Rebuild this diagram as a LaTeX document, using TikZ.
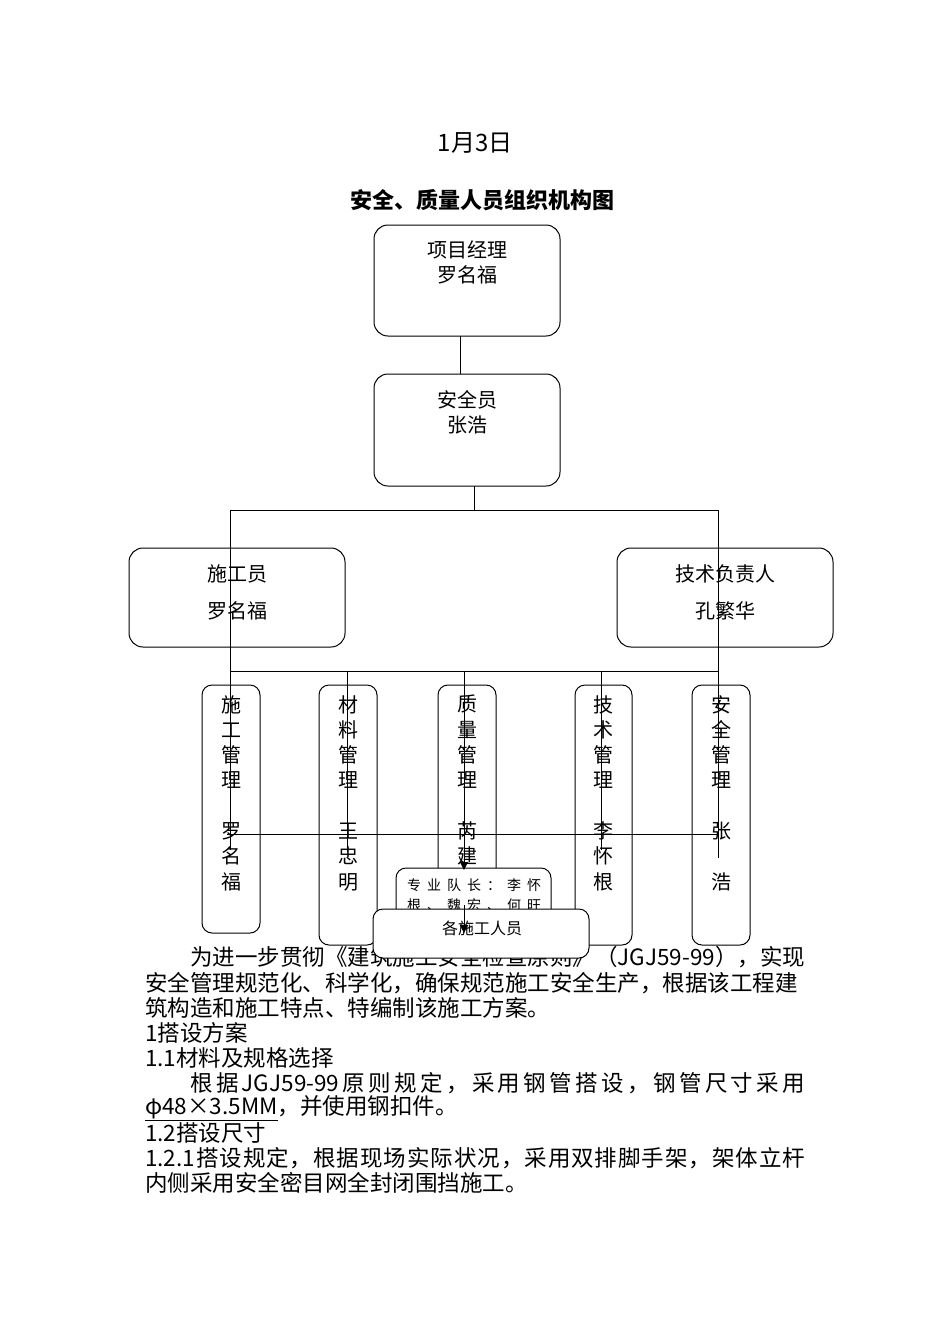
\documentclass[tikz,border=0pt]{standalone}
\usepackage{fontspec}
\setmainfont{Noto Sans CJK SC}
\usetikzlibrary{arrows.meta}
\newcommand{\gc}[1]{\makebox[20pt][c]{#1}}
\newcommand{\hf}{\hfill}
\begin{document}
\begin{tikzpicture}[x=1pt,y=-1pt,
  bx/.style={draw,line width=1pt,rounded corners=14pt},
  vb/.style={draw,line width=1pt,rounded corners=10pt},
  ln/.style={line width=1pt},
  bt/.style={font=\fontsize{20}{25}\selectfont,align=center},
  body/.style={anchor=west,inner sep=0pt,font=\fontsize{22.5}{25}\selectfont}]
\useasboundingbox (0,0) rectangle (950,1344);
\node[font=\fontsize{24}{26}\selectfont] (date) at (475,143) {1月3日};
\node[font=\bfseries\fontsize{22}{26}\selectfont] (title) at (482,200) {安全、质量人员组织机构图};
% body text
\node[body] (l1) at (190,957) {为进一步贯彻《建筑施工安全检查原则》（JGJ59-99），实现};
\node[body] (l2) at (145,983) {安全管理规范化、科学化，确保规范施工安全生产，根据该工程建};
\node[body] (l3) at (145,1008) {筑构造和施工特点、特编制该施工方案。};
\node[body] (l4) at (145,1033) {1搭设方案};
\node[body] (l5) at (145,1058) {1.1材料及规格选择};
\node[body] (l6) at (190,1083) {\makebox[615pt][s]{根\hf 据\hf JGJ59-99\hf 原\hf 则\hf 规\hf 定\hf ，\hf 采\hf 用\hf 钢\hf 管\hf 搭\hf 设\hf ，\hf 钢\hf 管\hf 尺\hf 寸\hf 采\hf 用}};
\node[body] (l7) at (145,1108) {\underline{φ48×3.5MM}，并使用钢扣件。};
\node[body] (l8) at (145,1133) {1.2搭设尺寸};
\node[body] (l9) at (145,1158) {\makebox[660pt][s]{1.2.1\hf 搭\hf 设\hf 规\hf 定\hf ，\hf 根\hf 据\hf 现\hf 场\hf 实\hf 际\hf 状\hf 况\hf ，\hf 采\hf 用\hf 双\hf 排\hf 脚\hf 手\hf 架\hf ，\hf 架\hf 体\hf 立\hf 杆}};
\node[body] (l10) at (145,1183) {内侧采用安全密目网全封闭围挡施工。};
% top boxes
\draw[bx] (374,225) rectangle (560,336);
\node[bt] (pm) at (467,262) {项目经理\\罗名福};
\draw[bx] (374,374) rectangle (560,486);
\node[bt] (aq) at (467,412) {安全员\\张浩};
\draw[ln] (460,336) -- (460,374);
\draw[ln] (474,486) -- (474,510);
\draw[ln] (230,510) -- (718,510);
\draw[bx] (129,548) rectangle (345,647);
\node[bt,align=center] (sg) at (237,592) {施工员\\[12pt]罗名福};
\draw[bx] (617,548) rectangle (833,647);
\node[bt] (js) at (725,592) {技术负责人\\[12pt]孔繁华};
\draw[ln] (230,510) -- (230,850);
\draw[ln] (718,510) -- (718,858);
\draw[ln] (230,671) -- (718,671);
\draw[ln] (347,671) -- (347,852);
\draw[ln] (601,671) -- (601,850);
% vertical boxes
\draw[vb] (202,685) rectangle (260,933);
\draw[vb] (319,685) rectangle (377,945);
\draw[vb] (438,685) rectangle (496,945);
\draw[vb] (575,685) rectangle (632,945);
\draw[vb] (692,685) rectangle (750,945);
\tikzset{vt/.style={font=\fontsize{20}{25.3}\selectfont,align=center,anchor=north,inner sep=0pt}}
\node[vt] (v1) at (231,695) {施\\工\\管\\理\\ \\罗\\名\\福};
\node[vt] (v2) at (348,695) {材\\料\\管\\理\\ \\王\\忠\\明};
\node[vt] (v3) at (467,695) {质\\量\\管\\理\\ \\芮\\建};
\node[vt] (v4) at (603,695) {技\\术\\管\\理\\ \\李\\怀\\根};
\node[vt] (v5) at (721,695) {安\\全\\管\\理\\ \\张\\ \\浩};
\draw[ln] (227,834) -- (718,834);
% team leader box
\draw[vb,fill=white] (396,868) rectangle (551,930);
\begin{scope}
\clip (398,870) rectangle (549,909);
\node[font=\fontsize{14}{20}\selectfont,anchor=north west,align=left,inner sep=0pt] (tl) at (404,879)
  {\gc{专}\gc{业}\gc{队}\gc{长}\gc{：}\gc{李}\gc{怀}\\\gc{根}\gc{、}\gc{魏}\gc{宏}\gc{、}\gc{何}\gc{旺}};
\end{scope}
\draw[vb,fill=white] (373,909) rectangle (589,958);
\node[font=\fontsize{16}{20}\selectfont] (wk) at (482,928) {各施工人员};
\draw[ln,-{Triangle[length=8pt,width=8pt]}] (464,671) -- (464,870);
\draw[ln,-{Triangle[length=8pt,width=8pt]}] (464,905) -- (464,933);
\end{tikzpicture}
\end{document}
